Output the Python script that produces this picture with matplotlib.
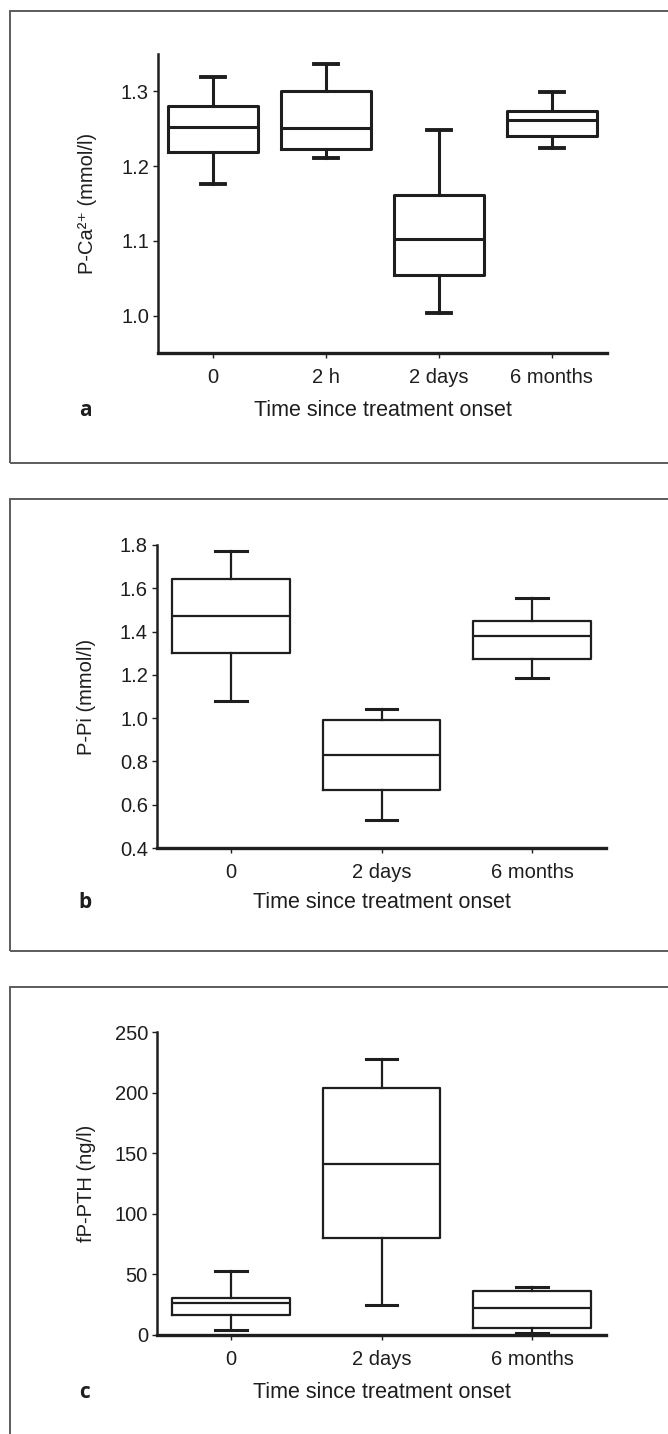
import matplotlib
matplotlib.use("Agg")
import matplotlib.pyplot as plt
from matplotlib.patches import Rectangle

# panel a: plasma ionized calcium
ca_labels = ['0', '2 h', '2 days', '6 months']
ca_whislo = [1.176, 1.2115, 1.003, 1.224]
ca_q1 = [1.219, 1.2225, 1.054, 1.240]
ca_med = [1.252, 1.251, 1.102, 1.2615]
ca_q3 = [1.281, 1.300, 1.162, 1.274]
ca_whishi = [1.319, 1.337, 1.248, 1.299]

# panel b: plasma phosphate
pi_labels = ['0', '2 days', '6 months']
pi_whislo = [1.081, 0.528, 1.185]
pi_q1 = [1.303, 0.667, 1.273]
pi_med = [1.470, 0.829, 1.381]
pi_q3 = [1.643, 0.992, 1.450]
pi_whishi = [1.771, 1.040, 1.556]

# panel c: PTH
pth_labels = ['0', '2 days', '6 months']
pth_whislo = [4.1, 25.1, 1.5]
pth_q1 = [16.2, 80.1, 5.5]
pth_med = [26.5, 141.2, 22.6]
pth_q3 = [30.3, 203.7, 36.6]
pth_whishi = [52.6, 227.7, 39.9]

FONT = ['Liberation Sans Narrow', 'Liberation Sans', 'DejaVu Sans']
plt.rcParams['font.family'] = FONT
INK = '#1e1e1e'

W, H = 668, 1434
fig = plt.figure(figsize=(W / 100, H / 100), dpi=100)


def px_axes(left, right, top, bottom):
    return fig.add_axes([left / W, 1 - bottom / H, (right - left) / W, (bottom - top) / H])


def stats(labels, lo, q1, med, q3, hi):
    return [dict(label=l, whislo=a, q1=b, med=c, q3=d, whishi=e)
            for l, a, b, c, d, e in zip(labels, lo, q1, med, q3, hi)]


def draw(ax, st, width, lw, ylim, yticks, yfmt, ylabel, letter, letter_y, xlab_y):
    n = len(st)
    ax.bxp(st, positions=range(n), widths=width, capwidths=0.21, showfliers=False,
           boxprops=dict(color=INK, lw=lw), medianprops=dict(color=INK, lw=lw),
           whiskerprops=dict(color=INK, lw=lw), capprops=dict(color=INK, lw=lw + 0.6))
    ax.set_xlim(-0.49, n - 0.51)
    ax.set_ylim(*ylim)
    ax.set_yticks(yticks)
    ax.set_yticklabels([yfmt.format(v) for v in yticks])
    for s in ['top', 'right']:
        ax.spines[s].set_visible(False)
    ax.spines['left'].set_linewidth(1.8)
    ax.spines['bottom'].set_linewidth(2.4)
    ax.spines['left'].set_color(INK)
    ax.spines['bottom'].set_color(INK)
    ax.tick_params(axis='y', length=3.5, width=1, pad=3, labelsize=14.5, colors=INK)
    ax.tick_params(axis='x', length=3.5, width=1, pad=7, labelsize=14.5, colors=INK)
    ax.set_ylabel(ylabel, fontsize=14.5, color=INK)
    ax.yaxis.label.set_verticalalignment('center')
    ax.yaxis.set_label_coords(-0.158, 0.5)
    ax.set_xlabel('Time since treatment onset', fontsize=15.5, color=INK)
    ax.xaxis.label.set_verticalalignment('center')
    ax.xaxis.set_label_coords(0.5, xlab_y)
    fig.text(85 / W, 1 - letter_y / H, letter, fontsize=15, fontweight='bold',
             family=['Open Sans', 'DejaVu Sans'], ha='center', va='center', color=INK)


# frames around the panels
for top in [11, 499, 987]:
    fig.patches.append(Rectangle((9.5 / W, 1 - (top + 452) / H), 2.0, 452 / H,
                                 transform=fig.transFigure, fill=False,
                                 edgecolor='#5c5c5c', lw=1.4))

ax_a = px_axes(158, 607, 54, 353)
draw(ax_a, stats(ca_labels, ca_whislo, ca_q1, ca_med, ca_q3, ca_whishi), 0.8, 2.2,
     (0.95, 1.35), [1.0, 1.1, 1.2, 1.3], '{:.1f}', 'P-Ca²⁺ (mmol/l)', 'a', 410,
     (353 - 410) / 299)

ax_b = px_axes(157, 606, 545, 848)
draw(ax_b, stats(pi_labels, pi_whislo, pi_q1, pi_med, pi_q3, pi_whishi), 0.78, 1.6,
     (0.4, 1.8), [0.4, 0.6, 0.8, 1.0, 1.2, 1.4, 1.6, 1.8], '{:.1f}', 'P-Pi (mmol/l)', 'b', 903,
     (848 - 903) / 303)

ax_c = px_axes(157, 606, 1032, 1335)
draw(ax_c, stats(pth_labels, pth_whislo, pth_q1, pth_med, pth_q3, pth_whishi), 0.78, 1.6,
     (0, 250), [0, 50, 100, 150, 200, 250], '{:g}', 'fP-PTH (ng/l)', 'c', 1393,
     (1335 - 1393) / 303)

fig.savefig('out.png', dpi=100)
